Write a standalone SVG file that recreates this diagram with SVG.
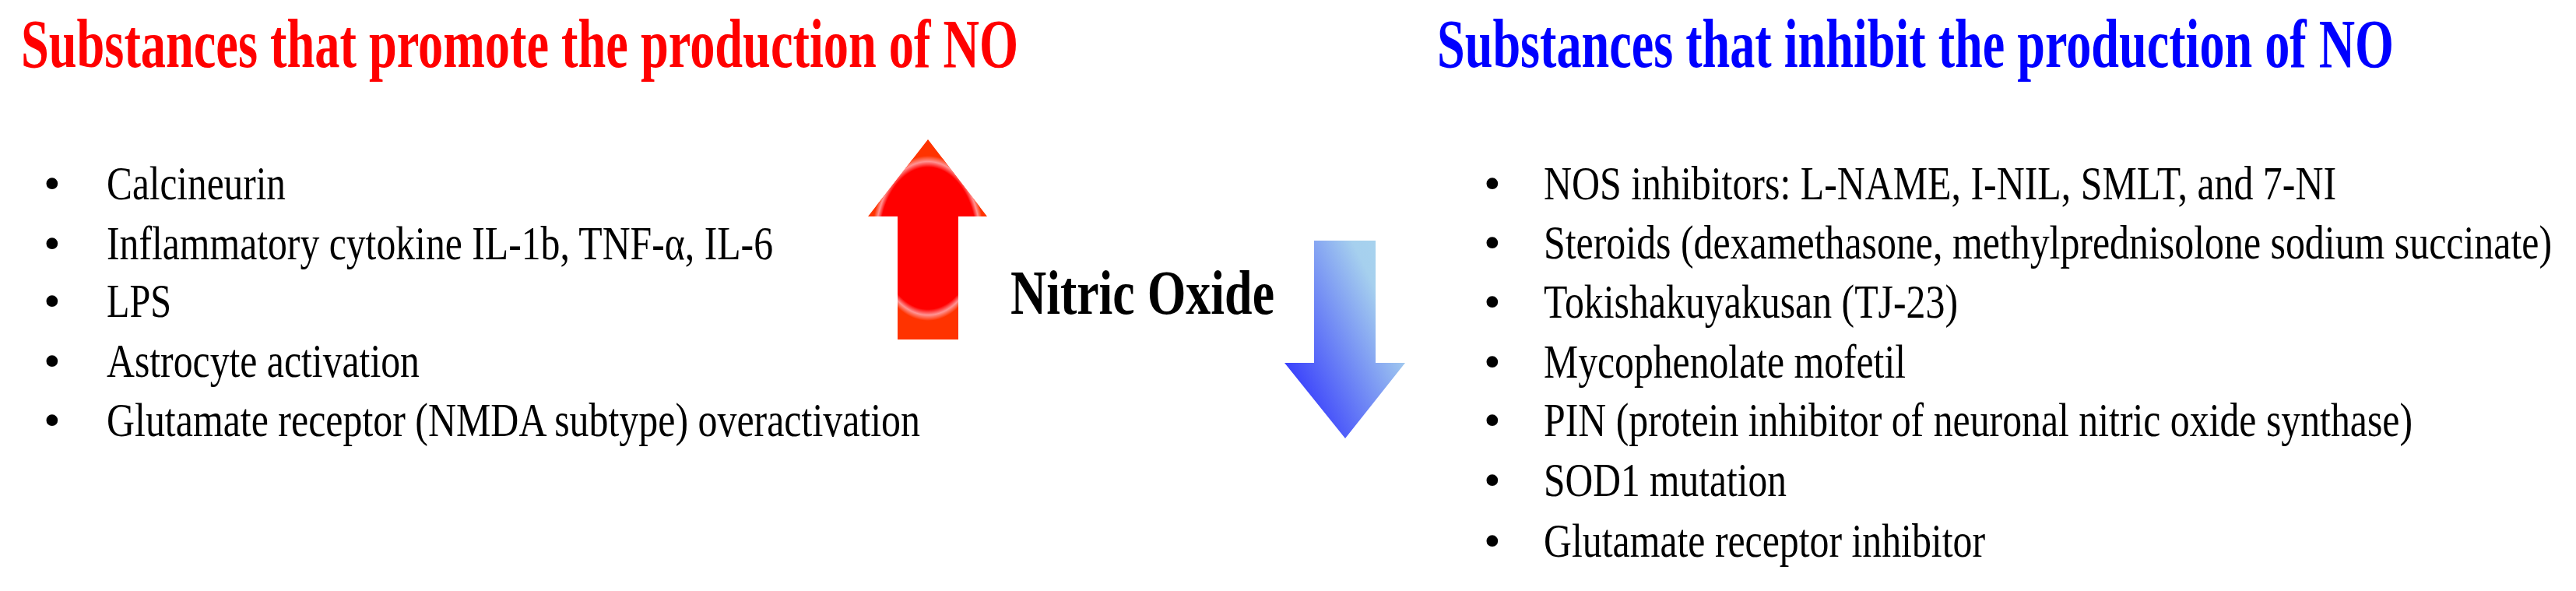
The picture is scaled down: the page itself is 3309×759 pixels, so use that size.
<svg xmlns="http://www.w3.org/2000/svg" width="3309" height="759" viewBox="0 0 3309 759">
<defs>
<style>
text{font-family:'Liberation Serif','Times New Roman',Tinos,Times,serif}
.title{font-weight:bold;font-size:88px}
.item{font-size:62px;fill:#000}
.center{font-weight:bold;font-size:80px;fill:#000}
</style>
<linearGradient id="blueGrad" x1="1" y1="0.1" x2="0" y2="0.9">
<stop offset="0" stop-color="#A8D4EE"/>
<stop offset="0.22" stop-color="#A6D0EE"/>
<stop offset="1" stop-color="#2424FF"/>
</linearGradient>
<radialGradient id="redGlow" cx="0.5" cy="0.5" r="0.5">
<stop offset="0" stop-color="#FF0000"/>
<stop offset="0.86" stop-color="#FF0000"/>
<stop offset="0.93" stop-color="#FF9494"/>
<stop offset="1" stop-color="#FF3300"/>
</radialGradient>
<clipPath id="upClip">
<polygon points="1192,179 1268,278 1231,278 1231,436 1153,436 1153,278 1115,278"/>
</clipPath>
</defs>
<rect width="3309" height="759" fill="#FFFFFF"/>

<g id="title-promote">
<text class="title" x="27" y="86" fill="#FF0000" font-family="'Liberation Serif','Times New Roman',serif" textLength="1281" lengthAdjust="spacingAndGlyphs">Substances that promote the production of NO</text>
</g>
<g id="title-inhibit">
<text class="title" x="1846" y="86" fill="#0000FF" font-family="'Liberation Serif','Times New Roman',serif" textLength="1229" lengthAdjust="spacingAndGlyphs">Substances that inhibit the production of NO</text>
</g>

<g id="list-promote" font-family="'Liberation Serif','Times New Roman',serif">
<text class="item" x="56" y="256">•</text>
<text class="item" x="137" y="256" textLength="230" lengthAdjust="spacingAndGlyphs">Calcineurin</text>
<text class="item" x="56" y="333">•</text>
<text class="item" x="137" y="333" textLength="856" lengthAdjust="spacingAndGlyphs">Inflammatory cytokine IL-1b, TNF-α, IL-6</text>
<text class="item" x="56" y="407">•</text>
<text class="item" x="137" y="407" textLength="83" lengthAdjust="spacingAndGlyphs">LPS</text>
<text class="item" x="56" y="484">•</text>
<text class="item" x="137" y="484" textLength="402" lengthAdjust="spacingAndGlyphs">Astrocyte activation</text>
<text class="item" x="56" y="560">•</text>
<text class="item" x="137" y="560" textLength="1045" lengthAdjust="spacingAndGlyphs">Glutamate receptor (NMDA subtype) overactivation</text>
</g>

<g id="arrow-up">
<g clip-path="url(#upClip)">
<rect x="1110" y="175" width="165" height="265" fill="#FF3300"/>
<ellipse cx="1192" cy="306" rx="72" ry="106" fill="url(#redGlow)"/>
</g>
</g>

<g id="nitric-oxide">
<text class="center" x="1298" y="403" font-family="'Liberation Serif','Times New Roman',serif" textLength="339" lengthAdjust="spacingAndGlyphs">Nitric Oxide</text>
</g>

<g id="arrow-down">
<polygon points="1688,309 1767,309 1767,466 1805,466 1728,563 1650,466 1688,466" fill="url(#blueGrad)"/>
</g>

<g id="list-inhibit" font-family="'Liberation Serif','Times New Roman',serif">
<text class="item" x="1906" y="256">•</text>
<text class="item" x="1983" y="256" textLength="1018" lengthAdjust="spacingAndGlyphs">NOS inhibitors: L-NAME, I-NIL, SMLT, and 7-NI</text>
<text class="item" x="1906" y="332">•</text>
<text class="item" x="1983" y="332" textLength="1295" lengthAdjust="spacingAndGlyphs">Steroids (dexamethasone, methylprednisolone sodium succinate)</text>
<text class="item" x="1906" y="408">•</text>
<text class="item" x="1983" y="408" textLength="532" lengthAdjust="spacingAndGlyphs">Tokishakuyakusan (TJ-23)</text>
<text class="item" x="1906" y="485">•</text>
<text class="item" x="1983" y="485" textLength="465" lengthAdjust="spacingAndGlyphs">Mycophenolate mofetil</text>
<text class="item" x="1906" y="560">•</text>
<text class="item" x="1983" y="560" textLength="1116" lengthAdjust="spacingAndGlyphs">PIN (protein inhibitor of neuronal nitric oxide synthase)</text>
<text class="item" x="1906" y="637">•</text>
<text class="item" x="1983" y="637" textLength="312" lengthAdjust="spacingAndGlyphs">SOD1 mutation</text>
<text class="item" x="1906" y="715">•</text>
<text class="item" x="1983" y="715" textLength="567" lengthAdjust="spacingAndGlyphs">Glutamate receptor inhibitor</text>
</g>
</svg>
